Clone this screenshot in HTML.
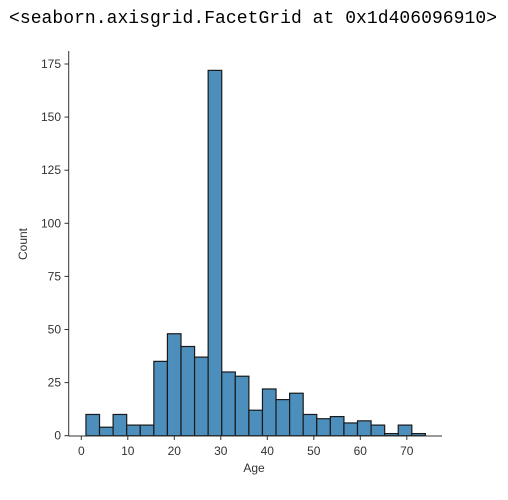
<!DOCTYPE html>
<html><head><meta charset="utf-8"><style>
body{margin:0;background:#fff;width:508px;height:500px;overflow:hidden}
svg{display:block}
</style></head><body>
<svg width="508" height="500">
<text x="9" y="23" font-family="Liberation Mono, monospace" font-size="18" textLength="488" fill="#000">&lt;seaborn.axisgrid.FacetGrid at 0x1d406096910&gt;</text>
<g id="bars"></g>
<g id="axes"></g>
</svg>
<script>
const binStart = 1;
const binEnd = 74;
const counts = [10,4,10,5,5,35,48,42,37,172,30,28,12,22,17,20,10,8,9,6,7,5,1,5,1];
const xTicks = [0,10,20,30,40,50,60,70];
const yTicks = [0,25,50,75,100,125,150,175];

const NS = 'http://www.w3.org/2000/svg';
const x = v => 81.3 + v * 4.65;
const y = v => 435.7 - v * (435.7 - 64) / 175;
const bars = document.getElementById('bars');
const axes = document.getElementById('axes');
const w = (binEnd - binStart) / counts.length;
function mk(tag, attrs, parent){const e=document.createElementNS(NS,tag);for(const k in attrs)e.setAttribute(k,attrs[k]);parent.appendChild(e);return e;}
counts.forEach((c,i)=>{
  const x0=x(binStart+i*w), x1=x(binStart+(i+1)*w);
  const r=mk('rect',{x:x0,y:y(c),width:x1-x0,height:y(0)-y(c),fill:'#4c8fbd',stroke:'#1a1a1a','stroke-width':1.2},bars);
  
  
});
const ya=mk('line',{x1:68.7,y1:51,x2:68.7,y2:436,stroke:'#333','stroke-width':1},axes);


const xa=mk('line',{x1:68.7,y1:436,x2:442,y2:436,stroke:'#333','stroke-width':1},axes);


yTicks.forEach(t=>{
  mk('line',{x1:64.5,x2:68.7,y1:y(t),y2:y(t),stroke:'#333'},axes);
  const tx=mk('text',{x:61,y:y(t)+4,'text-anchor':'end','font-family':'Liberation Sans, sans-serif','font-size':12,fill:'#333'},axes);
  tx.textContent=t;
  
  
});
xTicks.forEach(t=>{
  mk('line',{x1:x(t),x2:x(t),y1:436,y2:440,stroke:'#333'},axes);
  const tx=mk('text',{x:x(t),y:455,'text-anchor':'middle','font-family':'Liberation Sans, sans-serif','font-size':12,fill:'#333'},axes);
  tx.textContent=t;
  
  
});
const xl=mk('text',{x:254,y:472,'text-anchor':'middle','font-family':'Liberation Sans, sans-serif','font-size':12,fill:'#333'},axes);
xl.textContent='Age';


const yl=mk('text',{x:0,y:0,transform:'translate(27,244) rotate(-90)','text-anchor':'middle','font-family':'Liberation Sans, sans-serif','font-size':12,fill:'#333'},axes);
yl.textContent='Count';


</script>
</body></html>
